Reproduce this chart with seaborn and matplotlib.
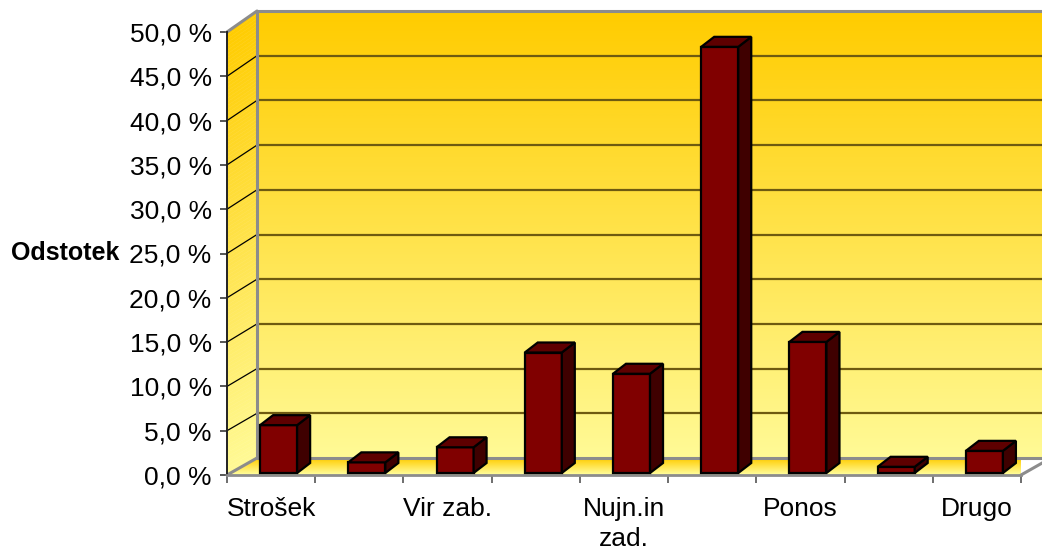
import numpy as np
import pandas as pd
import matplotlib
matplotlib.use("Agg")
import matplotlib.pyplot as plt
import seaborn as sns
from matplotlib.patches import Polygon
from matplotlib.collections import PolyCollection

# Chart data (percent of respondents)
tick_labels = ["Strošek", "", "Vir zab.", "", "Nujn.in\nzad.", "", "Ponos", "", "Drugo"]
values = [5.4, 1.2, 2.9, 13.6, 11.2, 48.1, 14.8, 0.7, 2.5]
y_ticks = [0, 5, 10, 15, 20, 25, 30, 35, 40, 45, 50]

sns.set_theme(style="white")
plt.rcParams["font.family"] = ["Liberation Sans", "DejaVu Sans"]
plt.rcParams["text.color"] = "black"
plt.rcParams["axes.labelcolor"] = "black"

W, H = 1042, 553
fig = plt.figure(figsize=(W / 100, H / 100), dpi=100)
ax = fig.add_axes([227 / W, (H - 475) / H, 794 / W, 443 / H])
ax.set_facecolor("none")

xmin, xmax, ymax = -0.5, 8.5, 50
xs = (xmax - xmin) / 794  # data units per pixel
ys = ymax / 443
ddx, ddy = 30 * xs, 17 * ys     # wall depth
bs = 447 / 443                  # back wall scale
bdx, bdy = 13 * xs, 10 * ys     # bar depth
FS = 19


def ramp(c_top, c_bot, n=256):
    t = np.linspace(0, 1, n)[:, None]
    c = np.array(c_top)[None, :] * (1 - t) + np.array(c_bot)[None, :] * t
    return (c / 255.0)[:, None, :]


gold = (255, 204, 0)
pale = (255, 250, 150)

# back wall
back = ax.imshow(ramp(gold, pale), extent=[xmin + ddx, xmax + ddx + 1, ddy, ymax * bs + ddy],
                 aspect="auto", origin="upper", zorder=0, interpolation="bilinear")
back.set_clip_on(False)

# side wall, built from thin slanted strips
n = 120
lev = np.linspace(0, ymax, n + 1)
quads, cols = [], []
for a, b in zip(lev[:-1], lev[1:]):
    quads.append([(xmin, a), (xmin + ddx, a * bs + ddy), (xmin + ddx, b * bs + ddy), (xmin, b)])
    t = 1 - (a + b) / 2 / ymax
    cols.append(tuple((np.array(gold) * (1 - t) + np.array(pale) * t) / 255.0))
ax.add_collection(PolyCollection(quads, facecolors=cols, edgecolors=cols, linewidths=0.3,
                                 zorder=0, clip_on=False))

# floor
floor_poly = Polygon([(xmin, 0), (xmax, 0), (xmax + ddx, ddy), (xmin + ddx, ddy)],
                     closed=True, transform=ax.transData)
floor = ax.imshow(ramp(gold, (255, 255, 160), 64), extent=[xmin, xmax + ddx, 0, ddy],
                  aspect="auto", origin="upper", zorder=0, interpolation="bilinear")
floor.set_clip_box(None)
floor.set_clip_path(floor_poly)

# gridlines
for v in y_ticks[1:-1]:
    ax.plot([xmin + ddx, xmax + ddx + 1], [v * bs + ddy] * 2, color="#6e5a10", lw=1.6,
            zorder=1, clip_on=False)
    ax.plot([xmin, xmin + ddx], [v, v * bs + ddy], color="black", lw=0.9, zorder=1, clip_on=False)

# grey wall borders
g = dict(color="#8c8c8c", lw=2.2, zorder=1.5, clip_on=False)
ax.plot([xmin + ddx, xmin + ddx], [ddy, ymax * bs + ddy], **g)
ax.plot([xmin + ddx, xmax + ddx + 1], [ymax * bs + ddy] * 2, **g)
ax.plot([xmin, xmin + ddx], [ymax, ymax * bs + ddy], **g)
ax.plot([xmin + ddx, xmax + ddx + 1], [ddy, ddy], **g)
ax.plot([xmin, xmin + ddx], [0, ddy], **g)
ax.plot([xmax, xmax + ddx], [0, ddy], **g)

# bars
df = pd.DataFrame({"pos": range(len(values)), "value": values})
sns.barplot(data=df, x="pos", y="value", color="#800000", saturation=1, width=0.42,
            edgecolor="black", linewidth=1.6, ax=ax, zorder=3)

for p in ax.patches:
    p.set_x(p.get_x() + 7.5 * xs)
    p.set_y(2 * ys)
    p.set_clip_on(False)
    x0, y0, w, h = p.get_x(), p.get_y(), p.get_width(), p.get_height()
    right = Polygon([(x0 + w, y0), (x0 + w + bdx, y0 + bdy), (x0 + w + bdx, y0 + h + bdy), (x0 + w, y0 + h)],
                    closed=True, facecolor="#3f0000", edgecolor="black", lw=1.6, zorder=3, clip_on=False)
    top = Polygon([(x0, y0 + h), (x0 + w, y0 + h), (x0 + w + bdx, y0 + h + bdy), (x0 + bdx, y0 + h + bdy)],
                  closed=True, facecolor="#5e0000", edgecolor="black", lw=1.6, zorder=3, clip_on=False)
    ax.add_patch(right)
    ax.add_patch(top)

ax.set_xlim(xmin, xmax)
ax.set_ylim(0, ymax)

# axes styling
for s in ["top", "right"]:
    ax.spines[s].set_visible(False)
ax.spines["left"].set_color("#222222")
ax.spines["left"].set_linewidth(1.4)
ax.spines["bottom"].set_color("#8c8c8c")
ax.spines["bottom"].set_linewidth(2)
ax.spines["left"].set_zorder(2)

ax.set_yticks(y_ticks)
ax.set_yticklabels([f"{v:.1f}".replace(".", ",") + " %" for v in y_ticks])
ax.tick_params(axis="y", length=5, width=1.4, color="#555555", pad=6, labelsize=FS,
               labelcolor="black", left=True)

ax.set_xticks(np.arange(xmin, xmax + 0.01, 1.0))
ax.set_xticklabels([])
ax.set_xticks(range(len(tick_labels)), minor=True)
ax.set_xticklabels(tick_labels, minor=True)
ax.tick_params(axis="x", which="major", length=6, width=1.2, color="#555555", bottom=True)
ax.tick_params(axis="x", which="minor", length=0, pad=16, labelsize=FS, labelcolor="black")
for t in ax.get_xticklabels(minor=True):
    t.set_linespacing(1.3)

ax.set_xlabel("")
ax.set_ylabel("Odstotek", rotation=0, fontsize=18, fontweight="bold", ha="right", va="center")
ax.yaxis.set_label_coords(-0.136, 0.5)

fig.savefig("out.png", dpi=100)
